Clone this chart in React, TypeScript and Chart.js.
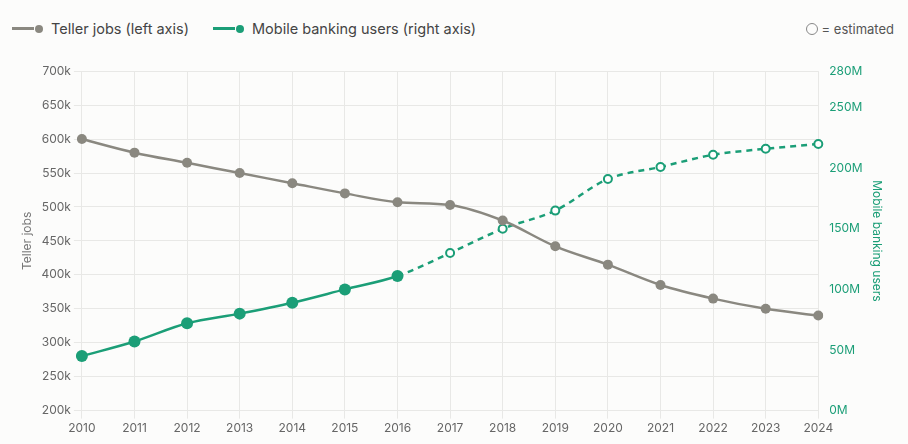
import React, { useEffect, useRef } from "react";
import { Chart, registerables } from "chart.js";
Chart.register(...registerables);

const years = ["2010","2011","2012","2013","2014","2015","2016","2017","2018","2019","2020","2021","2022","2023","2024"];
const tellerJobs = [600, 580, 565, 550, 535, 520, 507, 503, 480, 442, 415, 385, 365, 350, 340];
const mobileUsers = [45, 57, 72, 80, 89, 100, 111, 130, 150, 165, 191, 201, 211, 216, 220];
const estimatedFrom = 7;
const leftTicks = [200, 250, 300, 350, 400, 450, 500, 550, 600, 650, 700];
const rightTicks = [0, 50, 100, 150, 200, 250, 280];

const GRAY = "#8a8880";
const GREEN = "#1b9e77";
const FONT = "Inter, 'Open Sans', sans-serif";

export default function App() {
  const ref = useRef<HTMLCanvasElement>(null);
  useEffect(() => {
    const ch = new Chart(ref.current!, {
      type: "line",
      data: {
        labels: years,
        datasets: [
          {
            label: "Teller jobs", data: tellerJobs, yAxisID: "y", borderColor: GRAY, backgroundColor: GRAY,
            borderWidth: 2.5, pointRadius: 5, pointBorderWidth: 0, cubicInterpolationMode: "monotone",
          },
          {
            label: "Mobile banking users", data: mobileUsers, yAxisID: "y1", borderColor: GREEN,
            borderWidth: 2.5, cubicInterpolationMode: "monotone",
            pointRadius: mobileUsers.map((_, i) => (i >= estimatedFrom ? 4 : 6)),
            pointBackgroundColor: mobileUsers.map((_, i) => (i >= estimatedFrom ? "#ffffff" : GREEN)),
            pointBorderColor: GREEN,
            pointBorderWidth: mobileUsers.map((_, i) => (i >= estimatedFrom ? 2 : 0)),
            segment: { borderDash: (c: any) => (c.p1DataIndex >= estimatedFrom ? [6, 5] : undefined) },
          } as any,
        ],
      },
      options: {
        animation: false, responsive: true, maintainAspectRatio: false,
        layout: { padding: { left: 6, right: 18, top: 10, bottom: 5 } },
        plugins: { legend: { display: false }, tooltip: { enabled: false } },
        scales: {
          x: {
            grid: { color: "#e8e8e6" }, border: { display: false },
            ticks: { color: "#666", font: { family: FONT, size: 12 } },
            offset: false,
          },
          y: {
            position: "left", min: 200, max: 700,
            afterBuildTicks: (s: any) => { s.ticks = leftTicks.map((v) => ({ value: v })); },
            ticks: { color: "#666", font: { family: FONT, size: 12 }, callback: (v: any) => v + "k" },
            grid: { color: "#e8e8e6" }, border: { display: false },
            title: { display: true, text: "Teller jobs", color: "#777", font: { family: FONT, size: 12 } },
          },
          y1: {
            position: "right", min: 0, max: 280,
            afterBuildTicks: (s: any) => { s.ticks = rightTicks.map((v) => ({ value: v })); },
            ticks: { color: GREEN, font: { family: FONT, size: 12 }, callback: (v: any) => v + "M" },
            grid: { display: false }, border: { display: false },
            title: { display: true, text: "Mobile banking users", color: GREEN, font: { family: FONT, size: 12 } },
          },
        },
      },
    });
    return () => ch.destroy();
  }, []);

  const legendItem = (color: string, text: string) => (
    <div style={{ display: "flex", alignItems: "center", marginRight: 24 }}>
      <div style={{ width: 22, height: 3, background: color }} />
      <div style={{ width: 8, height: 8, borderRadius: 4, background: color, marginLeft: 1 }} />
      <span style={{ marginLeft: 8 }}>{text}</span>
    </div>
  );

  return (
    <div style={{ position: "fixed", left: 0, top: 0, width: 908, height: 444, background: "#fcfcfb", fontFamily: FONT, color: "#444", fontSize: 14.5 }}>
      <div style={{ position: "absolute", top: 20, left: 12, right: 14, display: "flex", alignItems: "center" }}>
        {legendItem(GRAY, "Teller jobs (left axis)")}
        {legendItem(GREEN, "Mobile banking users (right axis)")}
        <div style={{ marginLeft: "auto", display: "flex", alignItems: "center", fontSize: 13, color: "#555" }}>
          <div style={{ width: 10, height: 10, borderRadius: 6, border: "1px solid #888", marginRight: 4 }} />= estimated
        </div>
      </div>
      <div style={{ position: "absolute", top: 61, left: 10, width: 896, height: 383 }}>
        <canvas ref={ref} />
      </div>
    </div>
  );
}
